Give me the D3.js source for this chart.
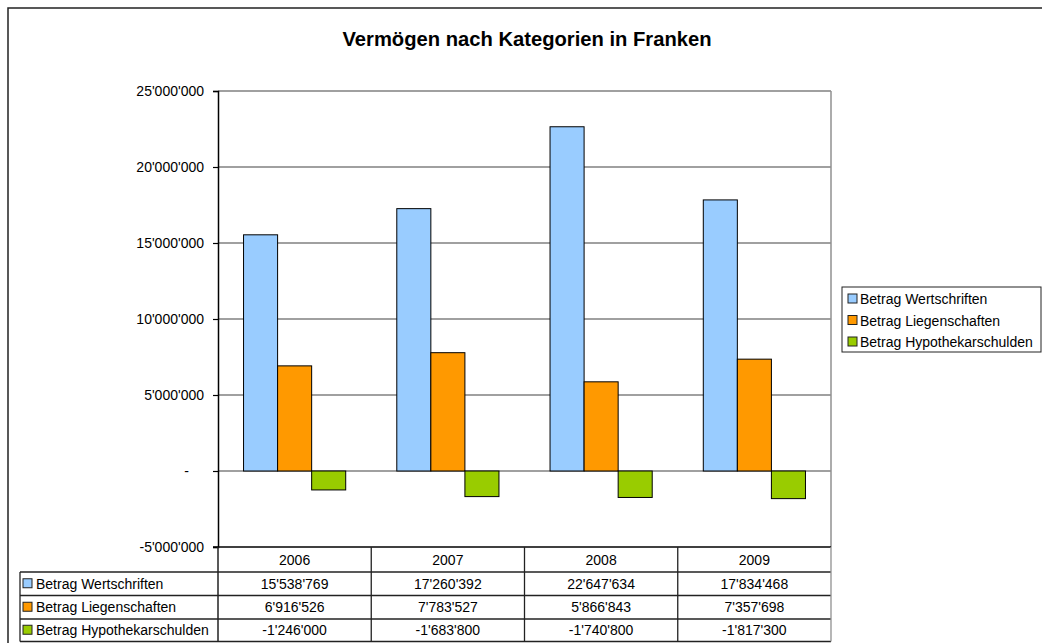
<!DOCTYPE html>
<html>
<head>
<meta charset="utf-8">
<script src="https://cdn.jsdelivr.net/npm/d3@7"></script>
<style>
  body { margin: 0; background: #fff; }
  svg { display: block; font-family: "Liberation Sans", Arial, sans-serif; }
</style>
</head>
<body>
<svg id="chart" width="1042" height="643"></svg>
<script>
// chart data
var years = ["2006", "2007", "2008", "2009"];
var seriesNames = ["Betrag Wertschriften", "Betrag Liegenschaften", "Betrag Hypothekarschulden"];
var wertschriften = [15538769, 17260392, 22647634, 17834468];
var liegenschaften = [6916526, 7783527, 5866843, 7357698];
var hypothekarschulden = [-1246000, -1683800, -1740800, -1817300];
var yTicks = [-5000000, 0, 5000000, 10000000, 15000000, 20000000, 25000000];
var colors = ["#99ccff", "#ff9900", "#99cc00"];

var values = [wertschriften, liegenschaften, hypothekarschulden];

// swiss style number format 15'538'769
var fmt = d3.formatLocale({decimal: ".", thousands: "'", grouping: [3], currency: ["", ""], minus: "-"}).format(",d");

var svg = d3.select("#chart");

var plotLeft = 218, plotRight = 831, plotTop = 91, plotBottom = 547;
var rowH = [25, 23.5, 23.5, 22.5];

var x0 = d3.scaleBand().domain(years).range([plotLeft, plotRight]).padding(0);
var x1 = d3.scaleBand().domain(seriesNames)
  .range([x0.bandwidth() / 6, x0.bandwidth() * 5 / 6]).padding(0);
var y = d3.scaleLinear().domain([-5000000, 25000000]).range([plotBottom, plotTop]);

// outer frame
svg.append("path")
  .attr("d", "M8,650 L8,8 L1050,8")
  .attr("fill", "none")
  .attr("stroke", "#222")
  .attr("stroke-width", 1.5);

// title
svg.append("text")
  .attr("x", 527).attr("y", 46)
  .attr("text-anchor", "middle")
  .attr("font-size", 20.2)
  .attr("font-weight", "bold")
  .text("Vermögen nach Kategorien in Franken");

// gridlines
svg.append("g").selectAll("line")
  .data(yTicks.filter(function(d){ return d > -5000000; }))
  .enter().append("line")
  .attr("x1", plotLeft).attr("x2", plotRight)
  .attr("y1", function(d){ return y(d); })
  .attr("y2", function(d){ return y(d); })
  .attr("stroke", "#808080")
  .attr("stroke-width", 1.3);

// right border of plot
svg.append("line")
  .attr("x1", plotRight).attr("x2", plotRight)
  .attr("y1", plotTop).attr("y2", plotBottom)
  .attr("stroke", "#909090")
  .attr("stroke-width", 1.5);

// bars
var groups = svg.append("g").selectAll("g")
  .data(years)
  .enter().append("g")
  .attr("transform", function(d){ return "translate(" + x0(d) + ",0)"; });

groups.selectAll("rect")
  .data(function(d, i){ return seriesNames.map(function(s, j){ return {s: s, v: values[j][i], c: colors[j]}; }); })
  .enter().append("rect")
  .attr("x", function(d){ return x1(d.s); })
  .attr("width", x1.bandwidth())
  .attr("y", function(d){ return y(Math.max(0, d.v)); })
  .attr("height", function(d){ return Math.abs(y(d.v) - y(0)); })
  .attr("fill", function(d){ return d.c; })
  .attr("stroke", "#000")
  .attr("stroke-width", 1);

// y axis
var yAxis = d3.axisLeft(y)
  .tickValues(yTicks)
  .tickSize(5)
  .tickPadding(9)
  .tickFormat(function(d){ return d === 0 ? "-" : fmt(d); });

var ya = svg.append("g")
  .attr("transform", "translate(" + plotLeft + ",0)")
  .call(yAxis);
ya.select(".domain").attr("stroke", "#000").attr("stroke-width", 1.5);
ya.selectAll(".tick line").attr("stroke", "#000").attr("stroke-width", 1.2);
ya.selectAll(".tick text")
  .attr("font-size", 14)
  .attr("font-family", "Liberation Sans, Arial, sans-serif")
  .attr("fill", "#000")
  .attr("dx", function(d){ return d === 0 ? -15 : 0; });

// data table
var tableLeft = 20;
var rowY = [plotBottom];
rowH.forEach(function(h, i){ rowY.push(rowY[i] + h); });

var tbl = svg.append("g").attr("stroke", "#222").attr("stroke-width", 1.3);
// horizontal lines
tbl.append("line").attr("x1", plotLeft - 5).attr("x2", plotRight).attr("y1", rowY[0]).attr("y2", rowY[0]).attr("stroke", "#000").attr("stroke-width", 1.6);
rowY.slice(1).forEach(function(yy){
  tbl.append("line").attr("x1", tableLeft).attr("x2", plotRight).attr("y1", yy).attr("y2", yy);
});
// vertical lines
tbl.append("line").attr("x1", plotLeft).attr("x2", plotLeft).attr("y1", rowY[0]).attr("y2", rowY[4]).attr("stroke-width", 1.5);
tbl.append("line").attr("x1", tableLeft).attr("x2", tableLeft).attr("y1", rowY[1]).attr("y2", rowY[4]);
years.forEach(function(yr){
  var xx = x0(yr) + x0.bandwidth();
  tbl.append("line").attr("x1", xx).attr("x2", xx).attr("y1", rowY[0]).attr("y2", rowY[4])
    .attr("stroke", xx > plotRight - 1 ? "#909090" : "#222");
});

// header years
svg.append("g").selectAll("text")
  .data(years)
  .enter().append("text")
  .attr("x", function(d){ return x0(d) + x0.bandwidth() / 2; })
  .attr("y", (rowY[0] + rowY[1]) / 2 + 5)
  .attr("text-anchor", "middle")
  .attr("font-size", 14)
  .text(function(d){ return d; });

// rows
seriesNames.forEach(function(s, j){
  var cy = (rowY[j + 1] + rowY[j + 2]) / 2;
  svg.append("rect")
    .attr("x", 23).attr("y", cy - 5)
    .attr("width", 9).attr("height", 9)
    .attr("fill", colors[j]).attr("stroke", "#222").attr("stroke-width", 1);
  svg.append("text")
    .attr("x", 36).attr("y", cy + 5)
    .attr("font-size", 14)
    .text(s);
  svg.append("g").selectAll("text")
    .data(values[j])
    .enter().append("text")
    .attr("x", function(d, i){ return x0(years[i]) + x0.bandwidth() / 2; })
    .attr("y", cy + 5)
    .attr("text-anchor", "middle")
    .attr("font-size", 14)
    .text(function(d){ return fmt(d); });
});

// legend
var lg = svg.append("g").attr("transform", "translate(842,287)");
lg.append("rect")
  .attr("width", 199).attr("height", 65)
  .attr("fill", "#fff").attr("stroke", "#222").attr("stroke-width", 1);
seriesNames.forEach(function(s, j){
  var cy = 12 + j * 21.5;
  lg.append("rect")
    .attr("x", 6).attr("y", cy - 5)
    .attr("width", 9).attr("height", 9)
    .attr("fill", colors[j]).attr("stroke", "#222").attr("stroke-width", 1);
  lg.append("text")
    .attr("x", 18).attr("y", cy + 5)
    .attr("font-size", 14)
    .text(s);
});
</script>
</body>
</html>
